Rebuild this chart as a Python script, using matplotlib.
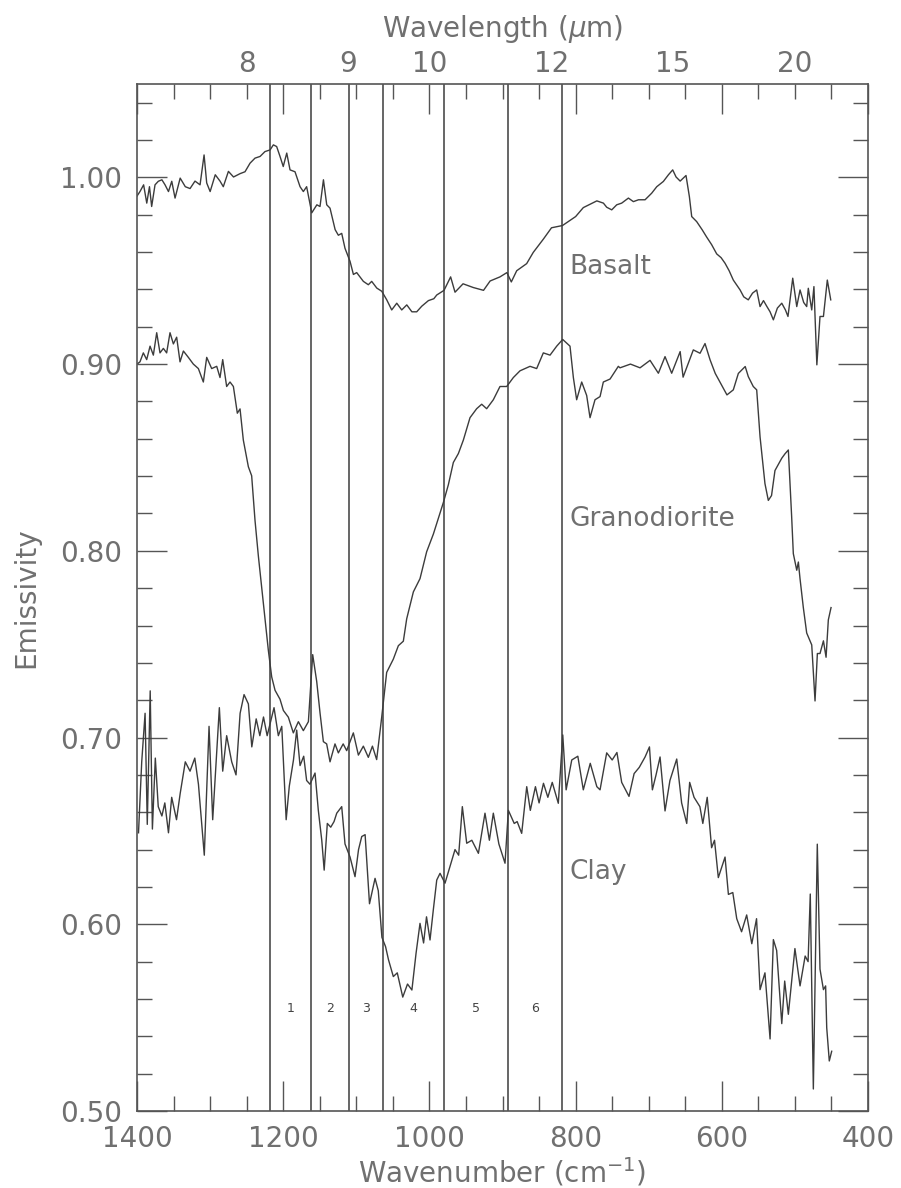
import numpy as np
import matplotlib
matplotlib.use("Agg")
import matplotlib.pyplot as plt
from matplotlib.ticker import MultipleLocator, NullLocator

# emissivity spectra, wavenumber in cm^-1
basalt_wn = [1400, 1396, 1391, 1386.7, 1383, 1380, 1375.4, 1370.9, 1366, 1361.7,
             1357, 1352.5, 1348, 1341, 1334, 1327.5, 1320.7, 1313.8, 1308.3, 1304.7,
             1300, 1293, 1286.5, 1282, 1275, 1268, 1259, 1252.3, 1245.4, 1238.6,
             1231.7, 1225, 1218, 1213.5, 1209, 1204.4, 1200, 1195.2, 1190.7, 1183.9,
             1177, 1172.5, 1168, 1161, 1154, 1149.7, 1145, 1140.5, 1136, 1129,
             1124.6, 1120, 1115.5, 1108.6, 1104, 1099.5, 1090.4, 1083.6, 1079, 1072,
             1065.2, 1058.4, 1051.6, 1044.7, 1037.9, 1031, 1024, 1017.4, 1010.5, 1001.4,
             994, 990, 980, 971, 965, 954, 940, 926, 917, 903.5,
             894, 888, 880.6, 867, 858, 844, 833, 818, 800, 789.5,
             771, 762, 757.5, 750.6, 743.8, 737, 727.8, 721, 714, 705,
             696, 689, 680, 673, 667.2, 662.6, 657, 649, 644.4, 641.2,
             634.4, 627, 620.7, 614, 607, 601, 595.6, 590, 584.3, 575,
             570, 563.8, 558, 552.3, 547.7, 543, 538.6, 534, 529.5, 524,
             518, 513, 509.5, 503, 497.5, 493, 488, 483.9, 481.7, 477,
             474, 470, 465.7, 461, 455.7, 451]
basalt_em = [0.990, 0.9924, 0.996, 0.9862, 0.995, 0.9844, 0.996, 0.9979, 0.9987, 0.996,
             0.9924, 0.9979, 0.9889, 0.9996, 0.995, 0.994, 0.998, 0.996, 1.012, 0.997,
             0.9924, 1.0014, 0.998, 0.995, 1.0032, 1.0002, 1.002, 1.003, 1.0076, 1.0103,
             1.0112, 1.0138, 1.0147, 1.0174, 1.0165, 1.0112, 1.0058, 1.013, 1.004, 1.003,
             0.995, 0.9924, 0.995, 0.981, 0.9853, 0.9844, 0.9987, 0.9853, 0.9835, 0.972,
             0.969, 0.970, 0.962, 0.955, 0.948, 0.949, 0.9443, 0.9425, 0.9443, 0.9407,
             0.939, 0.9344, 0.929, 0.9326, 0.929, 0.9317, 0.928, 0.928, 0.931, 0.934,
             0.935, 0.937, 0.9395, 0.9467, 0.9385, 0.943, 0.941, 0.9395, 0.9445, 0.9467,
             0.949, 0.944, 0.950, 0.9538, 0.9598, 0.967, 0.973, 0.9742, 0.979, 0.9838,
             0.9874, 0.9862, 0.984, 0.9826, 0.9853, 0.9862, 0.9889, 0.987, 0.988, 0.988,
             0.9915, 0.995, 0.9978, 1.0014, 1.004, 1.0002, 0.998, 1.001, 0.9897, 0.979,
             0.9763, 0.972, 0.968, 0.964, 0.959, 0.957, 0.954, 0.950, 0.945, 0.9397,
             0.936, 0.9344, 0.938, 0.9397, 0.9308, 0.934, 0.931, 0.928, 0.9237, 0.930,
             0.9326, 0.929, 0.9255, 0.946, 0.9308, 0.9397, 0.933, 0.9308, 0.9406, 0.929,
             0.9415, 0.8996, 0.9255, 0.9255, 0.945, 0.9344]

grano_wn = [1400, 1396, 1391.4, 1386.8, 1382.2, 1377.7, 1373.1, 1368.6, 1364, 1359.5,
            1354.9, 1350.3, 1345.8, 1341.2, 1336.6, 1329.8, 1323, 1316.1, 1309.3, 1304.7,
            1297.9, 1291, 1286.5, 1282.8, 1277.4, 1272.8, 1268.2, 1262.8, 1259.1, 1254.6,
            1247.7, 1243.2, 1238.6, 1234, 1229.5, 1224.9, 1220.4, 1215.8, 1211.2, 1204.4,
            1199.8, 1193, 1186.2, 1179.3, 1172.5, 1165.6, 1159.7, 1154.2, 1149.7, 1145.1,
            1140.6, 1136, 1129.2, 1124.6, 1118, 1113.2, 1104.1, 1097.2, 1090.4, 1083.6,
            1078, 1072.2, 1065.3, 1058.5, 1049.4, 1042.5, 1035.7, 1031.1, 1022, 1012.9,
            1003.8, 994.6, 981, 974.1, 967.3, 960.4, 953.6, 944.5, 935.4, 928.5,
            921.7, 912.6, 903.5, 894.3, 885.2, 876.1, 862.4, 853.3, 844.2, 835,
            825.9, 817.7, 807.7, 803.1, 798.6, 791.7, 784.9, 780.3, 773.5, 766.6,
            762.1, 752.9, 741.6, 739.3, 725, 711.9, 698.2, 686.8, 677.7, 668.6,
            657, 653, 639, 629.8, 623, 616.1, 609, 593, 584.3, 577.4,
            568, 563.8, 557, 552.3, 547.7, 541, 536.4, 532, 527.3, 518,
            513.5, 509, 504.5, 502.2, 497.5, 495.3, 493, 488.5, 483.9, 477,
            472.5, 469.3, 465.7, 461, 457.4, 454.3, 450.6]
grano_em = [0.900, 0.9012, 0.906, 0.9024, 0.9096, 0.9048, 0.9168, 0.906, 0.9084, 0.906,
            0.9168, 0.9108, 0.9144, 0.9012, 0.907, 0.9036, 0.900, 0.8976, 0.8904, 0.9036,
            0.8976, 0.8988, 0.8928, 0.9024, 0.888, 0.8904, 0.888, 0.8737, 0.876, 0.8593,
            0.845, 0.8402, 0.8162, 0.7971, 0.7803, 0.7636, 0.7468, 0.7325, 0.7253, 0.7205,
            0.7145, 0.7109, 0.7025, 0.7085, 0.7037, 0.7085, 0.7444, 0.730, 0.7133, 0.6978,
            0.6966, 0.687, 0.6966, 0.6918, 0.6966, 0.693, 0.7025, 0.6906, 0.6954, 0.6894,
            0.6954, 0.6882, 0.7109, 0.7349, 0.742, 0.7492, 0.7516, 0.7636, 0.778, 0.7851,
            0.7995, 0.809, 0.8258, 0.8354, 0.8473, 0.8521, 0.8593, 0.8713, 0.8761, 0.8785,
            0.8761, 0.8809, 0.888, 0.888, 0.8928, 0.8964, 0.8988, 0.8976, 0.906, 0.9048,
            0.9096, 0.9132, 0.9096, 0.8928, 0.8809, 0.8904, 0.8832, 0.8713, 0.8809, 0.8826,
            0.8904, 0.892, 0.8988, 0.898, 0.900, 0.898, 0.902, 0.8951, 0.904, 0.8951,
            0.9067, 0.893, 0.9076, 0.9058, 0.911, 0.9023, 0.895, 0.8835, 0.8862, 0.895,
            0.8987, 0.8933, 0.888, 0.8862, 0.861, 0.836, 0.827, 0.8296, 0.843, 0.8496,
            0.852, 0.854, 0.8185, 0.7985, 0.7896, 0.794, 0.785, 0.7696, 0.756, 0.7496,
            0.7196, 0.745, 0.745, 0.7518, 0.743, 0.763, 0.7696]

clay_wn = [1398, 1393.6, 1389, 1386, 1382, 1379, 1375, 1371, 1366, 1362,
           1357, 1352.6, 1346, 1341, 1334, 1327.5, 1321, 1316, 1308, 1301.5,
           1296.5, 1287.4, 1282.8, 1277.4, 1270.5, 1264.6, 1259, 1253.6, 1247.7, 1243,
           1237, 1232, 1227, 1222, 1217, 1212.6, 1206.7, 1202, 1196, 1191.7,
           1186, 1181.6, 1177, 1172, 1168, 1163.4, 1156.5, 1152, 1147.3, 1144,
           1139.7, 1135, 1130.5, 1126.8, 1120, 1115.5, 1108.6, 1101.8, 1097, 1092.6,
           1088, 1082, 1074.4, 1070, 1065, 1060, 1056, 1049.4, 1044, 1036.5,
           1030, 1024, 1018.3, 1012.9, 1008, 1004, 999.2, 994.7, 990, 985.5,
           978.7, 971.8, 965, 960, 955, 949, 942, 933, 924, 918,
           912.6, 905, 896.6, 892, 884, 880, 873.8, 866.9, 862, 855,
           850, 844, 838, 832, 823.7, 817.6, 813, 805.3, 797, 789.5,
           780, 771, 766.6, 757.5, 750, 743.5, 737, 727, 720, 713,
           705, 699, 695, 690, 684.5, 677.7, 671, 661.7, 655, 648,
           644, 638, 630, 626, 620, 614, 610, 604.8, 595.6, 591,
           585, 579.6, 573, 566, 559, 552.5, 547.7, 541, 534, 529.5,
           525, 518, 514, 509, 500, 493, 486, 482, 479, 474.8,
           469.4, 465.7, 461, 458, 456.5, 453, 449.7]
clay_em = [0.649, 0.687, 0.713, 0.6535, 0.725, 0.651, 0.689, 0.663, 0.658, 0.665,
           0.649, 0.668, 0.656, 0.670, 0.687, 0.682, 0.689, 0.675, 0.637, 0.706,
           0.656, 0.716, 0.682, 0.701, 0.687, 0.680, 0.713, 0.723, 0.718, 0.695,
           0.710, 0.701, 0.711, 0.701, 0.709, 0.716, 0.701, 0.706, 0.656, 0.674,
           0.688, 0.704, 0.685, 0.690, 0.677, 0.675, 0.681, 0.661, 0.645, 0.629,
           0.654, 0.652, 0.655, 0.6595, 0.663, 0.643, 0.636, 0.6255, 0.640, 0.647,
           0.648, 0.611, 0.6246, 0.618, 0.593, 0.588, 0.581, 0.572, 0.574, 0.561,
           0.568, 0.5648, 0.5845, 0.6005, 0.590, 0.604, 0.5916, 0.6077, 0.6237, 0.6273,
           0.622, 0.631, 0.640, 0.637, 0.663, 0.6434, 0.645, 0.638, 0.6595, 0.645,
           0.6595, 0.643, 0.6327, 0.661, 0.654, 0.655, 0.6487, 0.6737, 0.661, 0.6737,
           0.665, 0.6755, 0.668, 0.676, 0.6648, 0.7014, 0.672, 0.688, 0.690, 0.672,
           0.6862, 0.6737, 0.672, 0.6918, 0.688, 0.692, 0.676, 0.6685, 0.6807, 0.684,
           0.6896, 0.695, 0.672, 0.680, 0.6896, 0.6607, 0.677, 0.6885, 0.665, 0.654,
           0.676, 0.668, 0.663, 0.654, 0.668, 0.641, 0.645, 0.625, 0.636, 0.616,
           0.617, 0.603, 0.596, 0.605, 0.5896, 0.603, 0.565, 0.574, 0.5386, 0.5918,
           0.586, 0.5468, 0.5696, 0.5518, 0.587, 0.567, 0.583, 0.580, 0.6162, 0.5118,
           0.6429, 0.576, 0.565, 0.567, 0.5446, 0.5268, 0.532]

# band boundaries (cm^-1) and band numbers
band_edges = [1218, 1162, 1110, 1063, 980, 892, 818]
band_names = ["1", "2", "3", "4", "5", "6"]

samples = [("Basalt", basalt_wn, basalt_em, 0.952),
           ("Granodiorite", grano_wn, grano_em, 0.817),
           ("Clay", clay_wn, clay_em, 0.628)]
label_wn = 808

wl_ticks = [8, 9, 10, 12, 15, 20]

line_col = "#3c3c3c"
frame_col = "#555555"
text_col = "#707070"

plt.rcParams["font.family"] = ["DejaVu Sans"]

fig = plt.figure(figsize=(9.01, 11.88), dpi=100)
ax = fig.add_axes([0.1521, 0.0648, 0.8113, 0.8645])

for name, wn, em, ylab in samples:
    ax.plot(wn, em, color=line_col, lw=1.0)
    ax.text(label_wn, ylab, name, fontsize=19, color=text_col,
            ha="left", va="center")

for w in band_edges:
    ax.axvline(w, color=line_col, lw=1.1)

mids = [(a + b) / 2 for a, b in zip(band_edges[:-1], band_edges[1:])]
for m, n in zip(mids, band_names):
    ax.text(m, 0.555, n, fontsize=9, color="#444444", ha="center", va="center")

ax.set_xlim(1400, 400)
ax.set_ylim(0.50, 1.05)
ax.xaxis.set_major_locator(MultipleLocator(200))
ax.xaxis.set_minor_locator(MultipleLocator(50))
ax.yaxis.set_major_locator(MultipleLocator(0.1))
ax.yaxis.set_minor_locator(MultipleLocator(0.02))
ax.set_xticks([1400, 1200, 1000, 800, 600, 400])
ax.set_yticks([0.5, 0.6, 0.7, 0.8, 0.9, 1.0])
ax.set_yticklabels(["%.2f" % v for v in ax.get_yticks()])

ax.tick_params(which="both", direction="in", top=True, right=True,
               color=frame_col, width=1.0, labelcolor=text_col, labelsize=20)
ax.tick_params(which="major", length=21.6)
ax.tick_params(which="minor", length=10.8)
ax.tick_params(axis="x", which="major", pad=10)
ax.tick_params(axis="y", which="major", pad=11)
for s in ax.spines.values():
    s.set_color(frame_col)
    s.set_linewidth(1.2)

ax.set_xlabel("Wavenumber (cm$^{-1}$)", fontsize=20, color=text_col, labelpad=2)
ax.set_ylabel("Emissivity", fontsize=20, color=text_col, labelpad=14)


def wn_to_um(x):
    x = np.asarray(x, dtype=float)
    with np.errstate(divide="ignore", invalid="ignore"):
        return 10000.0 / x


sec = ax.secondary_xaxis("top", functions=(wn_to_um, wn_to_um))
sec.set_xticks(wl_ticks)
sec.set_xticklabels([str(v) for v in wl_ticks])
sec.xaxis.set_minor_locator(NullLocator())
sec.tick_params(length=0, pad=4, labelsize=20, labelcolor=text_col)
sec.spines["top"].set_visible(False)
sec.set_xlabel("Wavelength ($\\mu$m)", fontsize=20, color=text_col, labelpad=10)

fig.savefig("out.png", dpi=100)
